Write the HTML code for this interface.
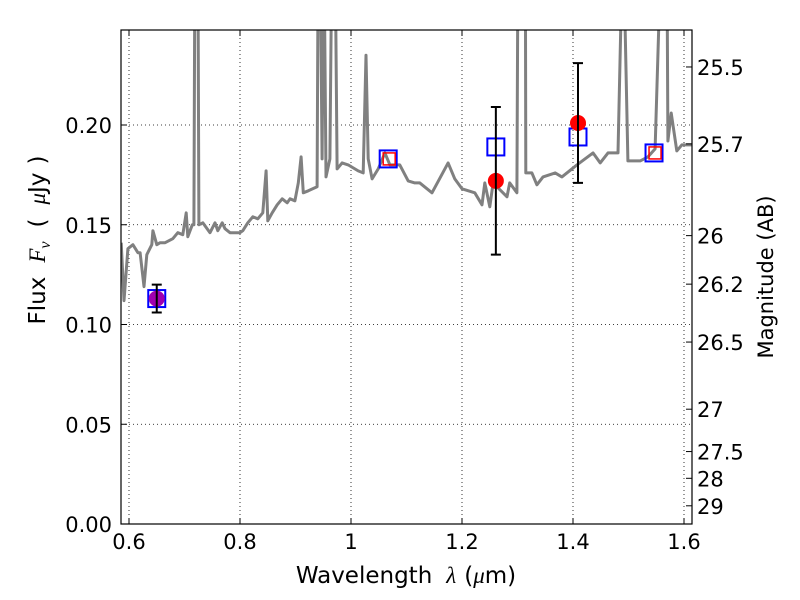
<!DOCTYPE html>
<html><head><meta charset="utf-8"><style>
body{margin:0;background:#fff;}
svg{display:block;font-family:"DejaVu Sans","Liberation Sans",sans-serif;}
</style></head><body>
<svg id="chart" width="800" height="600" xmlns="http://www.w3.org/2000/svg">
<defs><clipPath id="clip"><rect x="121" y="30" width="571" height="494"/></clipPath></defs>
<rect x="0" y="0" width="800" height="600" fill="#fff"/>
<g id="grid"></g>
<g id="series" clip-path="url(#clip)"></g>
<rect x="121" y="30" width="571" height="494" fill="none" stroke="#000" stroke-width="1.2"/>
<g id="axes"></g>
<text x="406" y="583" font-size="23" text-anchor="middle">Wavelength<tspan dx="14" font-family="Liberation Serif" font-style="italic">λ</tspan><tspan dx="8">(</tspan><tspan font-family="Liberation Serif" font-style="italic">μ</tspan>m)</text>
<text transform="translate(45,240) rotate(-90)" font-size="23" text-anchor="middle">Flux<tspan dx="14" font-family="Liberation Serif" font-style="italic">F</tspan><tspan font-family="Liberation Serif" font-style="italic" font-size="16" dy="5">ν</tspan><tspan dy="-5" dx="14">(</tspan><tspan dx="14" font-family="Liberation Serif" font-style="italic">μ</tspan>Jy<tspan dx="8">)</tspan></text>
<text transform="translate(773,277) rotate(-90)" font-size="21" text-anchor="middle">Magnitude (AB)</text>
</svg>
<script>
const specWave=[0.586,0.591,0.598,0.607,0.616,0.620,0.627,0.632,0.641,0.643,0.650,0.656,0.665,0.679,0.688,0.697,0.703,0.706,0.714,0.717,0.719,0.724,0.726,0.733,0.746,0.755,0.760,0.768,0.773,0.782,0.800,0.805,0.814,0.823,0.832,0.841,0.847,0.850,0.858,0.867,0.876,0.885,0.890,0.899,0.905,0.910,0.914,0.923,0.939,0.941,0.944,0.948,0.951,0.955,0.962,0.966,0.971,0.975,0.984,0.995,1.013,1.022,1.027,1.031,1.038,1.049,1.061,1.070,1.088,1.103,1.115,1.124,1.146,1.175,1.187,1.200,1.223,1.236,1.241,1.250,1.256,1.281,1.286,1.299,1.301,1.314,1.315,1.326,1.335,1.346,1.368,1.380,1.407,1.436,1.449,1.463,1.481,1.490,1.499,1.521,1.535,1.548,1.560,1.569,1.571,1.577,1.587,1.596,1.614];
const specFlux=[0.141,0.112,0.138,0.140,0.136,0.136,0.119,0.135,0.140,0.147,0.140,0.141,0.141,0.143,0.146,0.145,0.156,0.144,0.150,0.150,0.3,0.3,0.150,0.151,0.146,0.151,0.147,0.151,0.148,0.146,0.146,0.147,0.151,0.154,0.153,0.156,0.177,0.152,0.156,0.160,0.163,0.161,0.163,0.162,0.171,0.184,0.166,0.167,0.169,0.3,0.3,0.183,0.3,0.174,0.183,0.3,0.3,0.178,0.181,0.180,0.177,0.176,0.235,0.183,0.173,0.178,0.186,0.180,0.180,0.172,0.171,0.171,0.166,0.181,0.173,0.168,0.166,0.160,0.171,0.159,0.171,0.164,0.171,0.166,0.3,0.3,0.176,0.176,0.170,0.174,0.176,0.174,0.180,0.186,0.181,0.186,0.186,0.3,0.182,0.182,0.184,0.188,0.3,0.3,0.192,0.206,0.187,0.190,0.190];
const obsWave=[0.650,1.261,1.409];
const obsFlux=[0.113,0.172,0.201];
const obsErrHi=[0.120,0.209,0.231];
const obsErrLo=[0.106,0.135,0.171];
const modelWave=[0.650,1.067,1.261,1.409,1.546];
const modelFlux=[0.113,0.183,0.189,0.194,0.186];
const synthWave=[1.067,1.546];
const synthFlux=[0.183,0.186];
const xTicks=[0.6,0.8,1.0,1.2,1.4,1.6];
const xTickLabels=["0.6","0.8","1","1.2","1.4","1.6"];
const yTicks=[0,0.05,0.10,0.15,0.20];
const yTickLabels=["0.00","0.05","0.10","0.15","0.20"];
const magTicks=[25.5,25.7,26,26.2,26.5,27,27.5,28,29];
const magTickLabels=["25.5","25.7","26","26.2","26.5","27","27.5","28","29"];

const NS="http://www.w3.org/2000/svg";
const X=v=>129+(v-0.6)*555;
const Y=v=>524-v*1995;
const magToFlux=m=>Math.pow(10,(23.9-m)/2.5);
function mk(tag,attrs,parent,text){const e=document.createElementNS(NS,tag);for(const k in attrs)e.setAttribute(k,attrs[k]);if(text!==undefined)e.textContent=text;parent.appendChild(e);return e;}
const grid=document.getElementById('grid'),series=document.getElementById('series'),axes=document.getElementById('axes');
xTicks.forEach((t,i)=>{
  const g=mk('line',{x1:X(t),x2:X(t),y1:30,y2:524,stroke:'#000','stroke-width':0.8,'stroke-dasharray':'1,3'},grid);
  
  
  mk('line',{x1:X(t),x2:X(t),y1:524,y2:518,stroke:'#000'},axes);
  mk('line',{x1:X(t),x2:X(t),y1:30,y2:36,stroke:'#000'},axes);
  const l=mk('text',{x:X(t),y:549,'font-size':21,'text-anchor':'middle'},axes,xTickLabels[i]);
  
  
});
yTicks.forEach((t,i)=>{
  if(t>0){const g=mk('line',{x1:121,x2:692,y1:Y(t),y2:Y(t),stroke:'#000','stroke-width':0.8,'stroke-dasharray':'1,3'},grid);
  
  }
  mk('line',{x1:121,x2:127,y1:Y(t),y2:Y(t),stroke:'#000'},axes);
  const l=mk('text',{x:112,y:Y(t)+8,'font-size':21,'text-anchor':'end'},axes,yTickLabels[i]);
  
  
});
magTicks.forEach((m,i)=>{
  const y=Y(magToFlux(m));
  mk('line',{x1:692,x2:686,y1:y,y2:y,stroke:'#000'},axes);
  const l=mk('text',{x:697,y:y+8,'font-size':21},axes,magTickLabels[i]);
  
  
});
const pts=specWave.map((w,i)=>X(w).toFixed(1)+','+Y(specFlux[i]).toFixed(1)).join(' ');
const sp=mk('polyline',{points:pts,fill:'none',stroke:'#808080','stroke-width':3,'stroke-linejoin':'round'},series);


modelWave.forEach((w,i)=>{
  const r=mk('rect',{x:X(w)-8.5,y:Y(modelFlux[i])-8.5,width:17,height:17,fill:'none',stroke:'#0000ff','stroke-width':2},series);
  
  
});
synthWave.forEach((w,i)=>{
  const r=mk('rect',{x:X(w)-6+1,y:Y(synthFlux[i])-6,width:12,height:12,fill:'none',stroke:'#ff0000','stroke-width':1.5},series);
  
  
});
obsWave.forEach((w,i)=>{
  const x=X(w);
  const c=mk('circle',{cx:x,cy:Y(obsFlux[i]),r:8,fill:i===0?'#a000b0':'#ff0000'},series);
  
  
  const e=mk('path',{d:`M${x},${Y(obsErrHi[i])}V${Y(obsErrLo[i])}M${x-5},${Y(obsErrHi[i])}h10M${x-5},${Y(obsErrLo[i])}h10`,stroke:'#000','stroke-width':2,fill:'none'},series);
  
  
});
</script>
</body></html>
